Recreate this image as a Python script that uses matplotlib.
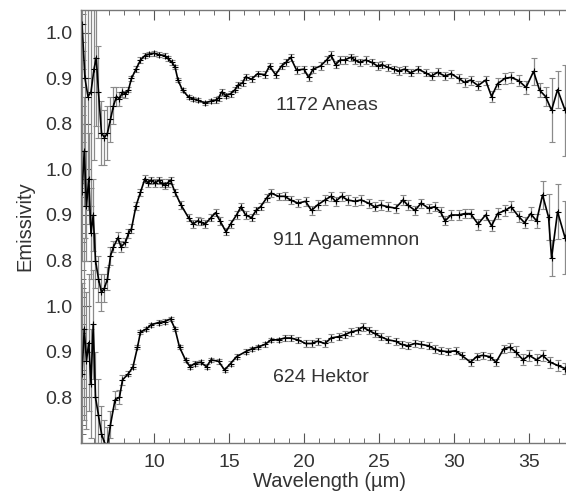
import matplotlib
matplotlib.use("Agg")
import matplotlib.pyplot as plt
from matplotlib.ticker import MultipleLocator, FixedLocator

plt.rcParams['font.family'] = ['Liberation Sans', 'DejaVu Sans']

# 1172 Aneas (shifted up by 0.6)
aneas_wl = [5.2, 5.4, 5.6, 5.8, 6.0, 6.15, 6.3, 6.5, 6.7, 6.9,
            7.1, 7.3, 7.5, 7.7, 7.9, 8.1, 8.3, 8.5, 8.8, 9.1,
            9.4, 9.7, 10.0, 10.3, 10.7, 10.9, 11.2, 11.4, 11.6, 11.9,
            12.3, 12.6, 12.9, 13.4, 13.8, 14.1, 14.3, 14.5, 14.8, 15.1,
            15.4, 15.6, 15.9, 16.1, 16.5, 16.9, 17.4, 17.7, 18.1, 18.5,
            18.8, 19.1, 19.5, 20.0, 20.3, 20.6, 21.1, 21.5, 21.8, 22.1,
            22.4, 22.7, 23.1, 23.4, 23.7, 24.1, 24.5, 24.9, 25.2, 25.6,
            26.0, 26.3, 26.7, 27.1, 27.6, 28.1, 28.5, 28.9, 29.4, 29.8,
            30.3, 30.7, 31.1, 31.6, 32.1, 32.5, 32.9, 33.4, 33.8, 34.3,
            34.8, 35.3, 35.7, 36.1, 36.5, 36.9, 37.4, 37.8]
aneas_em = [1.02, 0.90, 0.86, 0.87, 0.92, 0.945, 0.87, 0.78, 0.77, 0.78,
            0.81, 0.84, 0.86, 0.855, 0.87, 0.865, 0.875, 0.90, 0.92, 0.94,
            0.95, 0.953, 0.955, 0.952, 0.95, 0.944, 0.935, 0.925, 0.896, 0.874,
            0.859, 0.855, 0.852, 0.846, 0.85, 0.852, 0.856, 0.87, 0.862, 0.866,
            0.875, 0.885, 0.89, 0.903, 0.898, 0.91, 0.908, 0.927, 0.908, 0.927,
            0.935, 0.946, 0.918, 0.92, 0.902, 0.92, 0.927, 0.94, 0.951, 0.93,
            0.94, 0.94, 0.946, 0.94, 0.935, 0.94, 0.935, 0.927, 0.93, 0.924,
            0.92, 0.916, 0.92, 0.912, 0.92, 0.912, 0.905, 0.913, 0.905, 0.91,
            0.90, 0.891, 0.896, 0.884, 0.896, 0.86, 0.888, 0.90, 0.902, 0.895,
            0.88, 0.915, 0.874, 0.86, 0.83, 0.875, 0.83, 0.85]
aneas_err = [0.35, 0.35, 0.25, 0.25, 0.2, 0.15, 0.1, 0.07, 0.06, 0.06,
             0.05, 0.04, 0.02, 0.015, 0.01, 0.008, 0.006, 0.006, 0.006, 0.006,
             0.005, 0.005, 0.005, 0.005, 0.005, 0.005, 0.005, 0.005, 0.005, 0.005,
             0.005, 0.005, 0.005, 0.005, 0.005, 0.006, 0.006, 0.006, 0.006, 0.006,
             0.006, 0.006, 0.006, 0.006, 0.006, 0.006, 0.007, 0.007, 0.007, 0.007,
             0.007, 0.007, 0.008, 0.008, 0.008, 0.008, 0.008, 0.008, 0.008, 0.008,
             0.008, 0.008, 0.008, 0.008, 0.008, 0.008, 0.008, 0.008, 0.008, 0.008,
             0.008, 0.008, 0.008, 0.008, 0.008, 0.008, 0.009, 0.009, 0.009, 0.009,
             0.01, 0.01, 0.01, 0.01, 0.01, 0.012, 0.012, 0.012, 0.012, 0.012,
             0.015, 0.03, 0.015, 0.02, 0.07, 0.04, 0.1, 0.1]

# 911 Agamemnon (shifted up by 0.3)
agam_wl = [5.2, 5.35, 5.5, 5.65, 5.8, 5.95, 6.1, 6.3, 6.5, 6.7,
           6.9, 7.1, 7.3, 7.6, 7.8, 8.1, 8.3, 8.5, 8.8, 9.1,
           9.4, 9.6, 9.8, 10.1, 10.3, 10.5, 10.7, 10.9, 11.1, 11.4,
           11.8, 12.3, 12.6, 12.9, 13.1, 13.4, 13.8, 14.1, 14.4, 14.8,
           15.1, 15.5, 15.8, 16.1, 16.5, 16.8, 17.1, 17.5, 17.8, 18.3,
           18.7, 19.1, 19.6, 20.1, 20.5, 20.9, 21.4, 21.8, 22.1, 22.5,
           22.9, 23.4, 23.8, 24.3, 24.7, 25.1, 25.6, 26.1, 26.6, 26.9,
           27.4, 27.8, 28.3, 28.7, 29.1, 29.4, 29.8, 30.3, 30.7, 31.1,
           31.6, 32.1, 32.5, 32.9, 33.4, 33.8, 34.3, 34.7, 35.1, 35.5,
           35.9, 36.3, 36.5, 36.9, 37.4, 37.8]
agam_em = [0.95, 1.04, 0.92, 0.98, 0.86, 0.90, 0.80, 0.76, 0.73, 0.74,
           0.76, 0.81, 0.83, 0.85, 0.83, 0.84, 0.86, 0.87, 0.92, 0.95,
           0.98, 0.97, 0.976, 0.97, 0.976, 0.97, 0.965, 0.97, 0.976, 0.95,
           0.922, 0.894, 0.88, 0.887, 0.885, 0.88, 0.894, 0.905, 0.887, 0.863,
           0.88, 0.90, 0.918, 0.90, 0.894, 0.91, 0.918, 0.937, 0.948, 0.941,
           0.941, 0.933, 0.926, 0.93, 0.91, 0.922, 0.933, 0.941, 0.93, 0.941,
           0.933, 0.93, 0.933, 0.926, 0.918, 0.922, 0.918, 0.915, 0.933, 0.922,
           0.91, 0.926, 0.915, 0.918, 0.907, 0.887, 0.90, 0.90, 0.903, 0.903,
           0.88, 0.90, 0.876, 0.903, 0.91, 0.918, 0.897, 0.883, 0.903, 0.887,
           0.944, 0.895, 0.806, 0.907, 0.85, 0.88]
agam_err = [0.15, 0.12, 0.12, 0.1, 0.1, 0.08, 0.06, 0.05, 0.04, 0.03,
            0.025, 0.02, 0.012, 0.012, 0.012, 0.01, 0.01, 0.01, 0.008, 0.008,
            0.008, 0.008, 0.008, 0.008, 0.008, 0.008, 0.008, 0.008, 0.008, 0.008,
            0.008, 0.008, 0.008, 0.008, 0.008, 0.008, 0.008, 0.008, 0.008, 0.008,
            0.008, 0.008, 0.008, 0.008, 0.008, 0.008, 0.008, 0.008, 0.008, 0.008,
            0.009, 0.009, 0.009, 0.01, 0.01, 0.01, 0.01, 0.01, 0.01, 0.01,
            0.01, 0.01, 0.01, 0.01, 0.01, 0.01, 0.01, 0.01, 0.01, 0.01,
            0.01, 0.01, 0.01, 0.01, 0.01, 0.01, 0.01, 0.01, 0.01, 0.01,
            0.012, 0.012, 0.012, 0.012, 0.012, 0.012, 0.012, 0.012, 0.015, 0.015,
            0.03, 0.05, 0.04, 0.06, 0.08, 0.08]

# 624 Hektor (no shift)
hektor_wl = [5.2, 5.35, 5.5, 5.65, 5.8, 5.95, 6.1, 6.3, 6.5, 6.7,
             6.9, 7.1, 7.4, 7.7, 7.9, 8.3, 8.6, 8.9, 9.1, 9.5,
             9.8, 10.3, 10.7, 11.1, 11.4, 11.7, 12.1, 12.4, 12.7, 13.1,
             13.5, 13.8, 14.3, 14.7, 15.1, 15.5, 16.1, 16.5, 16.9, 17.4,
             17.8, 18.3, 18.7, 19.1, 19.6, 20.1, 20.5, 20.9, 21.4, 21.8,
             22.3, 22.7, 23.1, 23.6, 23.9, 24.3, 24.7, 25.1, 25.6, 26.1,
             26.5, 26.9, 27.4, 27.8, 28.3, 28.7, 29.1, 29.6, 30.1, 30.5,
             31.1, 31.5, 31.9, 32.4, 32.8, 33.3, 33.7, 34.1, 34.6, 35.0,
             35.5, 35.9, 36.4, 36.9, 37.4, 37.8]
hektor_em = [0.85, 0.95, 0.88, 0.92, 0.83, 0.96, 0.80, 0.76, 0.72, 0.70,
             0.695, 0.74, 0.794, 0.80, 0.838, 0.852, 0.867, 0.91, 0.943, 0.95,
             0.959, 0.964, 0.966, 0.972, 0.95, 0.91, 0.882, 0.867, 0.874, 0.877,
             0.867, 0.882, 0.879, 0.86, 0.874, 0.889, 0.90, 0.906, 0.91, 0.916,
             0.926, 0.926, 0.93, 0.93, 0.926, 0.918, 0.918, 0.923, 0.918, 0.93,
             0.933, 0.937, 0.943, 0.947, 0.954, 0.947, 0.94, 0.933, 0.926, 0.923,
             0.916, 0.913, 0.918, 0.916, 0.913, 0.906, 0.902, 0.90, 0.902, 0.892,
             0.877, 0.889, 0.892, 0.889, 0.877, 0.906, 0.91, 0.90, 0.882, 0.892,
             0.882, 0.892, 0.877, 0.87, 0.863, 0.86]
hektor_err = [0.2, 0.2, 0.15, 0.15, 0.12, 0.12, 0.1, 0.08, 0.06, 0.05,
              0.04, 0.03, 0.02, 0.015, 0.01, 0.006, 0.005, 0.005, 0.005, 0.005,
              0.005, 0.005, 0.005, 0.005, 0.005, 0.005, 0.005, 0.005, 0.005, 0.005,
              0.005, 0.005, 0.005, 0.005, 0.005, 0.005, 0.005, 0.005, 0.005, 0.005,
              0.005, 0.005, 0.006, 0.006, 0.006, 0.008, 0.008, 0.008, 0.008, 0.008,
              0.008, 0.008, 0.008, 0.008, 0.008, 0.008, 0.008, 0.008, 0.008, 0.008,
              0.008, 0.008, 0.008, 0.008, 0.008, 0.008, 0.008, 0.008, 0.008, 0.008,
              0.008, 0.008, 0.008, 0.008, 0.008, 0.008, 0.01, 0.012, 0.012, 0.012,
              0.012, 0.012, 0.012, 0.012, 0.012, 0.012]

spectra = [
    ('1172 Aneas', aneas_wl, aneas_em, aneas_err, 0.6),
    ('911 Agamemnon', agam_wl, agam_em, agam_err, 0.3),
    ('624 Hektor', hektor_wl, hektor_em, hektor_err, 0.0),
]
label_pos = [(18.1, 1.441), (17.95, 1.143), (17.95, 0.843)]

fig = plt.figure(figsize=(5.66, 4.97), dpi=100)
ax = fig.add_axes([0.143, 0.109, 0.88, 0.871])

for (name, wl, em, err, off), (lx, ly) in zip(spectra, label_pos):
    shifted = [v + off for v in em]
    ax.errorbar(wl, shifted, yerr=err, color='black', lw=1.2,
                ecolor='#8a8a8a', elinewidth=0.9, capsize=2, capthick=0.7,
                marker='+', ms=4, mew=0.8)
    ax.text(lx, ly, name, fontsize=14, color='#333333', va='center', ha='left')

ax.set_xlim(5.13, 38.33)
ax.set_ylim(0.7, 1.65)

ax.xaxis.set_major_locator(FixedLocator([10, 15, 20, 25, 30, 35]))
ax.xaxis.set_minor_locator(MultipleLocator(1))
yt = [0.8, 0.9, 1.0, 1.1, 1.2, 1.3, 1.4, 1.5, 1.6]
ax.set_yticks(yt)
ax.set_yticklabels(['0.8', '0.9', '1.0'] * 3)
ax.yaxis.set_minor_locator(MultipleLocator(0.02))

ax.tick_params(which='both', direction='in', top=True, right=True,
               color='#555555', labelsize=14, labelcolor='#333333')
ax.tick_params(which='major', length=7, width=0.8)
ax.tick_params(which='minor', length=3.5, width=0.6)
ax.tick_params(axis='y', pad=6)
ax.tick_params(axis='x', pad=8)

for s in ax.spines.values():
    s.set_color('#777777')
    s.set_linewidth(1.0)

ax.set_xlabel('Wavelength (µm)', fontsize=14.5, color='#333333', labelpad=1)
ax.set_ylabel('Emissivity', fontsize=14.5, color='#333333', labelpad=8)

fig.savefig('out.png', dpi=100)
